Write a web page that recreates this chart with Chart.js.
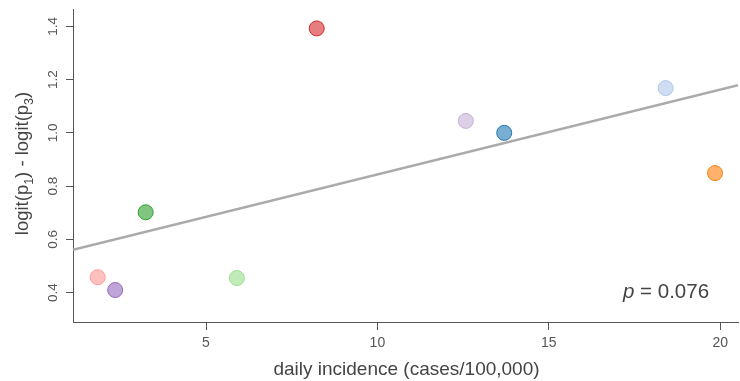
<!DOCTYPE html>
<html>
<head>
<meta charset="utf-8">
<script src="https://cdn.jsdelivr.net/npm/chart.js@4/dist/chart.umd.min.js"></script>
<style>
  html, body { margin: 0; padding: 0; background: #fff; }
  #wrap { width: 740px; height: 381px; position: relative; }
</style>
</head>
<body>
<div id="wrap"><canvas id="chart"></canvas></div>
<script>
// incidence vs. logit difference, one point per region
const incidence = [1.84, 2.35, 3.24, 5.90, 8.23, 12.58, 13.70, 18.41, 19.85];
const logitDiff = [0.458, 0.410, 0.702, 0.455, 1.392, 1.045, 1.000, 1.168, 0.849];
const pointColors = ["#ff9896", "#9467bd", "#2ca02c", "#98df8a", "#d62728", "#c5b0d5", "#1f77b4", "#aec7e8", "#ff7f0e"];

// fitted line, end points
const fitX = [1.12, 20.52];
const fitY = [0.561, 1.179];

const xTicks = [5, 10, 15, 20];
const yTicks = [0.4, 0.6, 0.8, 1.0, 1.2, 1.4];
const yTickLabels = ["0.4", "0.6", "0.8", "1.0", "1.2", "1.4"];
const pValue = "0.076";

const FONT = "'Liberation Sans', Arial, sans-serif";
const AXIS = "#555";

function withAlpha(hex, a) {
  const n = parseInt(hex.slice(1), 16);
  return `rgba(${n >> 16},${(n >> 8) & 255},${n & 255},${a})`;
}

function noPad(s) {
  s.paddingLeft = 0; s.paddingRight = 0; s.paddingTop = 0; s.paddingBottom = 0;
}

// titles with subscripts + the p value note
const labelsPlugin = {
  id: "labels",
  afterDraw(chart) {
    const ctx = chart.ctx;
    const area = chart.chartArea;
    ctx.save();
    ctx.fillStyle = "#444";
    ctx.textBaseline = "alphabetic";

    // x title
    ctx.font = `19px ${FONT}`;
    ctx.textAlign = "center";
    ctx.fillText("daily incidence (cases/100,000)", (area.left + area.right) / 2 + 1, 375);

    // y title, rotated, with subscripts
    const parts = [["logit(p", 0], ["1", 1], [") - logit(p", 0], ["3", 1], [")", 0]];
    const big = `18.5px ${FONT}`, small = `12.5px ${FONT}`;
    let total = 0;
    parts.forEach(([t, s]) => { ctx.font = s ? small : big; total += ctx.measureText(t).width; });
    ctx.translate(28, (area.top + area.bottom) / 2 - 2);
    ctx.rotate(-Math.PI / 2);
    let x = -total / 2;
    ctx.textAlign = "left";
    parts.forEach(([t, s]) => {
      ctx.font = s ? small : big;
      ctx.fillText(t, x, s ? 5 : 0);
      x += ctx.measureText(t).width;
    });
    ctx.restore();

    // p value
    ctx.save();
    ctx.fillStyle = "#444";
    ctx.textBaseline = "alphabetic";
    ctx.textAlign = "left";
    ctx.font = `italic 20.5px ${FONT}`;
    let px = 623;
    ctx.fillText("p", px, 298);
    px += ctx.measureText("p").width;
    ctx.font = `20.5px ${FONT}`;
    ctx.fillText(" = " + pValue, px, 298);
    ctx.restore();
  }
};

new Chart(document.getElementById("chart"), {
  type: "scatter",
  data: {
    datasets: [
      {
        type: "line",
        data: fitX.map((x, i) => ({ x, y: fitY[i] })),
        borderColor: "#aaaaaa",
        borderWidth: 2.5,
        pointRadius: 0,
        order: 2
      },
      {
        data: incidence.map((x, i) => ({ x, y: logitDiff[i] })),
        backgroundColor: pointColors.map(c => withAlpha(c, 0.6)),
        borderColor: pointColors,
        borderWidth: 1,
        pointRadius: 7.5,
        order: 1
      }
    ]
  },
  options: {
    responsive: true,
    maintainAspectRatio: false,
    animation: false,
    layout: { autoPadding: false, padding: { top: 9, right: 2, left: 0, bottom: 0 } },
    plugins: { legend: { display: false }, tooltip: { enabled: false } },
    scales: {
      x: {
        type: "linear",
        min: 1.12,
        max: 20.52,
        afterBuildTicks: s => { s.ticks = xTicks.map(v => ({ value: v })); },
        afterFit: s => { s.height = 59; noPad(s); },
        grid: { display: true, drawOnChartArea: false, drawTicks: true, tickLength: 8, color: AXIS },
        border: { display: true, color: AXIS, width: 1 },
        ticks: { color: AXIS, font: { family: FONT, size: 14 }, padding: 5, callback: v => String(v) }
      },
      y: {
        type: "linear",
        min: 0.29,
        max: 1.465,
        afterBuildTicks: s => { s.ticks = yTicks.map(v => ({ value: v })); },
        afterFit: s => { s.width = 73; noPad(s); },
        grid: { display: true, drawOnChartArea: false, drawTicks: true, tickLength: 7, color: AXIS },
        border: { display: true, color: AXIS, width: 1 },
        ticks: {
          color: AXIS,
          font: { family: FONT, size: 13.5 },
          minRotation: 90,
          maxRotation: 90,
          crossAlign: "center",
          padding: 3,
          callback: (v, i) => yTickLabels[i]
        }
      }
    }
  },
  plugins: [labelsPlugin]
});
</script>
</body>
</html>
